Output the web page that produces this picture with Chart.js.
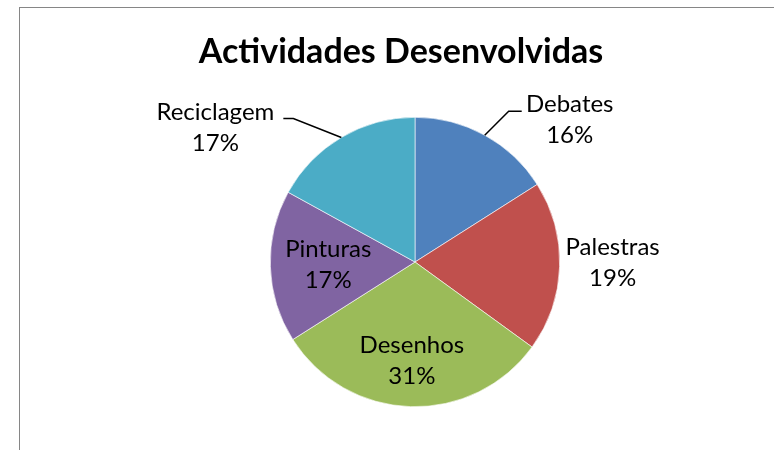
<!DOCTYPE html>
<html>
<head>
<meta charset="utf-8">
<script src="https://cdn.jsdelivr.net/npm/chart.js@4"></script>
<style>
  html, body { margin: 0; padding: 0; background: #fff; }
  #wrap { width: 774px; height: 450px; }
</style>
</head>
<body>
<div id="wrap"><canvas id="myChart" width="774" height="450"></canvas></div>
<script>
'use strict';

// data
const categories = ['Debates', 'Palestras', 'Desenhos', 'Pinturas', 'Reciclagem'];
const percents = [16, 19, 31, 17, 17];
const chartTitle = 'Actividades Desenvolvidas';

const sliceColors = ['#4F81BD', '#C0504D', '#9BBB59', '#8064A2', '#4BACC6'];

// how each label sits relative to its slice
// inside: fraction of radius along mid angle
// outside / leader: offset of text block center from the edge point
const labelStyle = [
	{ mode: 'leader', dx: 85, dy: -15, elbow: [24, -24], tail: 13 },
	{ mode: 'outside', dx: 53, dy: -4 },
	{ mode: 'inside', r: 0.68 },
	{ mode: 'inside', r: 0.6 },
	{ mode: 'leader', dx: -126, dy: -10, elbow: [-48, -19], tail: -10 }
];

const labelFont = '24px Lato, "Open Sans", sans-serif';
const titleFont = 'bold 34px Lato, "Open Sans", sans-serif';

const labelsPlugin = {
	id: 'excelLabels',
	beforeDraw(chart) {
		const c = chart.ctx;
		c.save();
		c.strokeStyle = '#868686';
		c.lineWidth = 1;
		c.strokeRect(19.5, 7.5, 900, 600);
		c.restore();
	},
	afterDatasetsDraw(chart) {
		const c = chart.ctx;
		const meta = chart.getDatasetMeta(0);
		c.save();
		// title
		c.fillStyle = '#000';
		c.font = titleFont;
		c.textAlign = 'center';
		c.textBaseline = 'alphabetic';
		c.fillText(chartTitle, 401, 63);

		c.font = labelFont;
		c.textBaseline = 'middle';
		meta.data.forEach((arc, i) => {
			const p = arc.getProps(['x', 'y', 'startAngle', 'endAngle', 'outerRadius'], true);
			const mid = (p.startAngle + p.endAngle) / 2;
			const ex = p.x + Math.cos(mid) * p.outerRadius;
			const ey = p.y + Math.sin(mid) * p.outerRadius;
			const st = labelStyle[i];
			let tx, ty;
			if (st.mode === 'inside') {
				tx = p.x + Math.cos(mid) * p.outerRadius * st.r;
				ty = p.y + Math.sin(mid) * p.outerRadius * st.r;
			} else {
				tx = ex + st.dx;
				ty = ey + st.dy;
			}
			if (st.mode === 'leader') {
				const bx = ex + st.elbow[0], by = ey + st.elbow[1];
				c.beginPath();
				c.strokeStyle = '#000';
				c.lineWidth = 1.5;
				c.moveTo(ex, ey);
				c.lineTo(bx, by);
				c.lineTo(bx + st.tail, by);
				c.stroke();
			}
			c.fillStyle = '#000';
			c.textAlign = 'center';
			c.fillText(categories[i], tx, ty - 15.5);
			c.fillText(percents[i] + '%', tx, ty + 15.5);
		});
		c.restore();
	}
};

let ctx = document.getElementById('myChart');

let myChart = new Chart(ctx, {
	type: 'pie',
	data: {
		labels: categories,
		datasets: [{
			data: percents,
			backgroundColor: sliceColors,
			borderColor: '#ffffff',
			borderWidth: 0.6
		}]
	},
	options: {
		responsive: false,
		animation: false,
		layout: {
			padding: { top: 117, bottom: 43, left: 256, right: 200 }
		},
		plugins: {
			legend: { display: false },
			title: { display: false },
			tooltip: { enabled: false }
		}
	},
	plugins: [labelsPlugin]
});
</script>
</body>
</html>
